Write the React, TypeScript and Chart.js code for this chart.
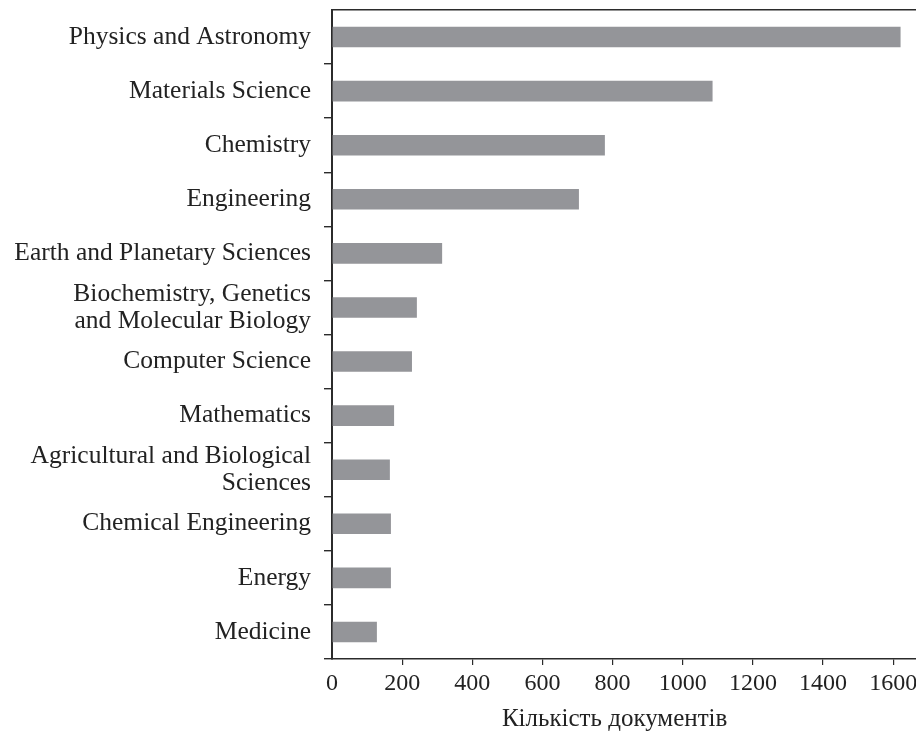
import React, { useEffect, useRef } from "react";
import { Chart, registerables } from "chart.js";

Chart.register(...registerables);

const categories: (string | string[])[] = [
  "Physics and Astronomy",
  "Materials Science",
  "Chemistry",
  "Engineering",
  "Earth and Planetary Sciences",
  ["Biochemistry, Genetics", "and Molecular Biology"],
  "Computer Science",
  "Mathematics",
  ["Agricultural and Biological", "Sciences"],
  "Chemical Engineering",
  "Energy",
  "Medicine",
];

const documentCounts: number[] = [1621, 1085, 778, 704, 314, 242, 228, 177, 165, 168, 168, 128];

const xTickValues: number[] = [0, 200, 400, 600, 800, 1000, 1200, 1400, 1600];
const xMax = 1665;
const xAxisTitle = "Кількість документів";

const FONT = "'Liberation Serif', 'Times New Roman', serif";
const AXIS_COLOR = "#2b2b2b";
const BAR_COLOR = "#949599";
const TEXT_COLOR = "#222222";

const axisTitlePlugin = {
  id: "axisTitleUnderTicks",
  afterDraw(chart: any) {
    const scale = chart.scales.x;
    if (!scale || !scale.ticks.length) return;
    const first = scale.getPixelForValue(scale.ticks[0].value);
    const last = scale.getPixelForValue(scale.ticks[scale.ticks.length - 1].value);
    const ctx = chart.ctx;
    ctx.save();
    ctx.font = `25px ${FONT}`;
    ctx.fillStyle = TEXT_COLOR;
    ctx.textAlign = "center";
    ctx.textBaseline = "middle";
    ctx.fillText(xAxisTitle, (first + last) / 2 + 2, scale.bottom - 15);
    ctx.restore();
  },
};

export default function App() {
  const canvasRef = useRef<HTMLCanvasElement | null>(null);

  useEffect(() => {
    const canvas = canvasRef.current;
    if (!canvas) return;
    const chart = new Chart(canvas, {
      type: "bar",
      data: {
        labels: categories,
        datasets: [
          {
            data: documentCounts,
            backgroundColor: BAR_COLOR,
            borderWidth: 0,
            categoryPercentage: 1,
            barPercentage: 0.38,
          },
        ],
      },
      plugins: [axisTitlePlugin],
      options: {
        indexAxis: "y",
        responsive: false,
        animation: false,
        layout: { padding: 0 },
        plugins: {
          legend: { display: false },
          tooltip: { enabled: false },
        },
        scales: {
          x: {
            type: "linear",
            position: "bottom",
            min: 0,
            max: xMax,
            ticks: {
              color: TEXT_COLOR,
              font: { family: FONT, size: 24 },
              padding: 4,
              maxRotation: 0,
              autoSkip: false,
              callback: (v: any) => String(v),
            },
            afterBuildTicks: (scale: any) => {
              scale.ticks = xTickValues.map((value) => ({ value }));
            },
            afterFit: (scale: any) => {
              scale.height = 75;
              scale.paddingLeft = 0;
              scale.paddingRight = 0;
            },
            grid: {
              display: true,
              drawOnChartArea: false,
              drawTicks: true,
              tickLength: 6,
              color: (ctx: any) => (ctx.index === 0 ? "rgba(0,0,0,0)" : AXIS_COLOR),
              lineWidth: 1.2,
            },
            border: { display: true, color: AXIS_COLOR, width: 1.6 },
          },
          x2: {
            type: "linear",
            axis: "x",
            position: "top",
            min: 0,
            max: xMax,
            ticks: { display: false },
            grid: { display: false, drawTicks: false },
            border: { display: true, color: AXIS_COLOR, width: 1.6 },
            afterFit: (scale: any) => {
              scale.height = 10;
              scale.paddingLeft = 0;
              scale.paddingRight = 0;
            },
          },
          y: {
            type: "category",
            ticks: {
              color: TEXT_COLOR,
              font: { family: FONT, size: 25.5, lineHeight: 1.05 },
              padding: 13,
              autoSkip: false,
            },
            afterFit: (scale: any) => {
              scale.width = 332;
              scale.paddingTop = 0;
              scale.paddingBottom = 0;
            },
            grid: {
              display: true,
              offset: true,
              drawOnChartArea: false,
              drawTicks: true,
              tickLength: 8,
              lineWidth: 1.4,
              color: (ctx: any) =>
                ctx.index === 0 || ctx.index === categories.length ? "rgba(0,0,0,0)" : AXIS_COLOR,
            },
            border: { display: true, color: AXIS_COLOR, width: 2 },
          },
        },
      },
    });
    return () => chart.destroy();
  }, []);

  return (
    <div style={{ position: "absolute", left: 0, top: 0, width: 916, height: 734, background: "#fff" }}>
      <canvas ref={canvasRef} width={916} height={734} style={{ display: "block" }} />
    </div>
  );
}
